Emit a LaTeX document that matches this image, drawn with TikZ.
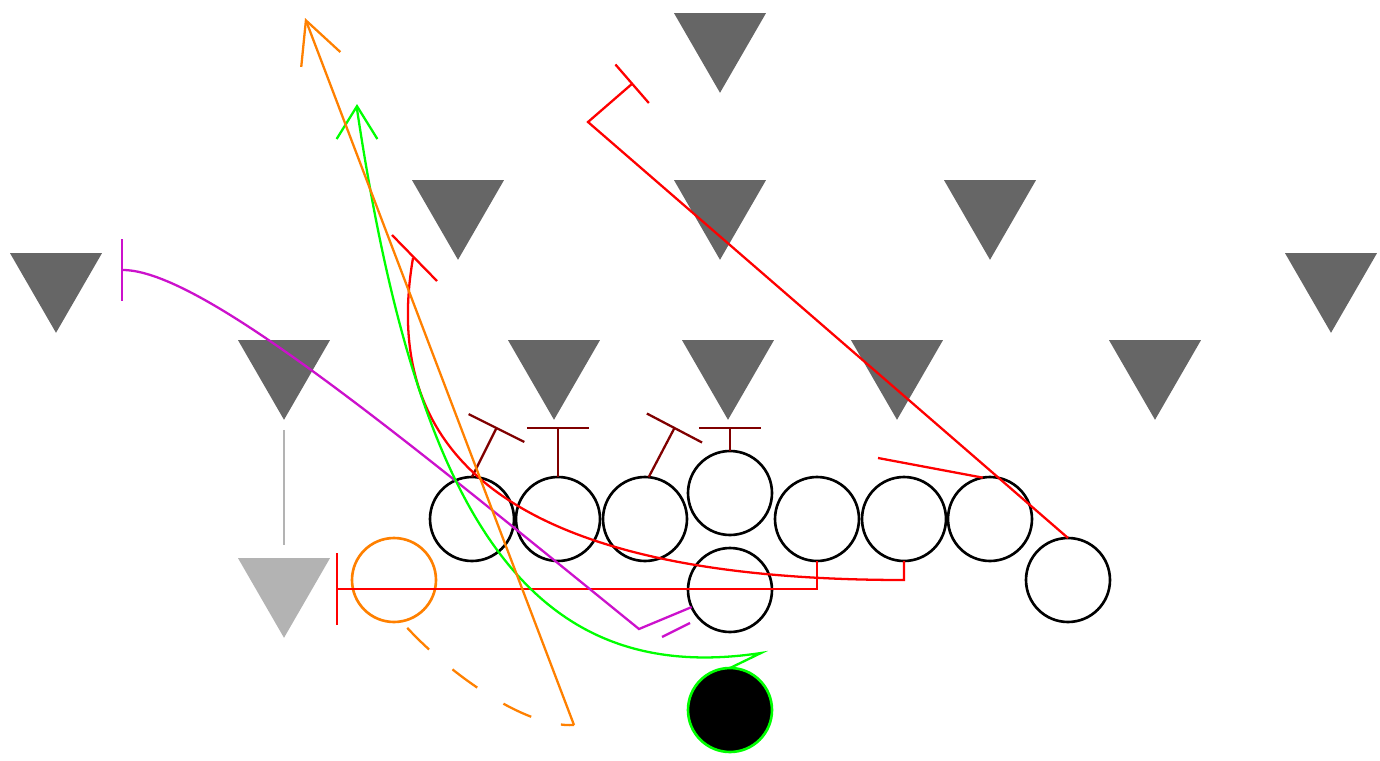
\documentclass[tikz,border=0pt]{standalone}
\usepackage{tikz}
\usetikzlibrary{arrows.meta,shapes.geometric,positioning}

\definecolor{defgray}{HTML}{666666}
\definecolor{ghostgray}{HTML}{B3B3B3}
\definecolor{blockred}{HTML}{800000}
\definecolor{routered}{HTML}{FF0000}
\definecolor{routemag}{HTML}{CC11CC}
\definecolor{routegreen}{HTML}{00FF00}
\definecolor{routeorange}{HTML}{FF8000}

\begin{document}
\begin{tikzpicture}[x=0.02cm,y=-0.02cm,line width=1.3pt,
  every node/.style={inner sep=0pt,outer sep=0pt},
  defnode/.style={regular polygon,regular polygon sides=3,shape border rotate=180,
    minimum size=2.124cm,fill=defgray},
  ghostnode/.style={defnode,fill=ghostgray},
  offnode/.style={draw,circle,minimum size=1.68cm,line width=1.5pt},
  ballnode/.style={offnode,fill=black,draw=routegreen},
  shiftnode/.style={offnode,draw=routeorange},
  block/.style={blockred,-{Bar[width=35.5pt]}},
  redroute/.style={routered},
  magroute/.style={routemag},
  greenroute/.style={routegreen},
  orangeroute/.style={routeorange},
]
\useasboundingbox (0,0) rectangle (1380,761);

% the defense
\foreach \n/\x/\y in {d1/720/39.7,d2/458/206.7,d3/720/206.7,d4/990/206.7,
  d5/56/279.7,d6/1331/279.7,d7/284/366.7,d8/554/366.7,d9/728/366.7,
  d10/897/366.7,d11/1155/366.7}
\node[defnode] (\n) at (\x,\y) {};
\node[ghostnode] (dg) at (284,584.7) {};

% the offense
\foreach \n/\x/\y in {o1/472/519,o2/558/519,o3/645/519,o4/730/493,o5/817/519,
  o6/904/519,o7/990/519,wr/1068/580,rb/730/590}
\node[offnode] (\n) at (\x,\y) {};
\node[shiftnode] (mo) at (394,580) {};
\node[ballnode] (qb) at (730,710) {};

% free ends of the routes
\foreach \n/\x/\y in {k1/497/427,k2/558/427,k3/675/427,k4/730/427,
  r1/336/589,r2a/904/580,r2b/413/258,r2c/392/235,r2d/437/281,r3/878/458,
  r4a/588/122,r4b/633/83,p1/639/629,p2/121/270,p3/662/637,p4/690/623,
  q1/761/653,q2/357/109,q3/357/104,h1/574/725,h2/305/18}
\coordinate (\n) at (\x,\y);

% blocks
\draw[block] (o1.north) -- (k1);
\draw[block] (o2.north) -- (k2);
\draw[block] (o3.85) -- (k3);
\draw[block] (o4.north) -- (k4);

% red routes
\draw[redroute,-{Bar[width=41pt]}] (o5.south) |- (r1);
\draw[redroute] (o6.south) -- (r2a) .. controls (604,580) and (370,508) .. (r2b);
\draw[redroute] (r2c) -- (r2d);
\draw[redroute] (o7.100) -- (r3);
\draw[redroute,-{Bar[width=29pt]}] (wr.north) -- (r4a) -- (r4b);

% motion
\draw[magroute,-{Bar[width=35pt]}] (rb.204) -- (p1)
  .. controls (395,431) and (200,270) .. (p2);
\draw[magroute] (p3) -- (p4);

% the passes
\draw[greenroute,-{Straight Barb[length=18.7pt,width=23.2pt]}] (qb.north) -- (q1)
  .. controls (530,688) and (418,518) .. (q2) -- (q3);
\draw[orangeroute,dash pattern=on 17.5pt off 17.5pt,shorten <=5pt] (mo.-80)
  .. controls (446,670) and (523,728) .. (h1);
\draw[orangeroute,-{Straight Barb[length=23.8pt,width=23.8pt]}] (h1) -- (h2);

% ghost
\draw[ghostgray,shorten <=5.7pt,shorten >=7.4pt] (d7) -- (dg);
\end{tikzpicture}
\end{document}
